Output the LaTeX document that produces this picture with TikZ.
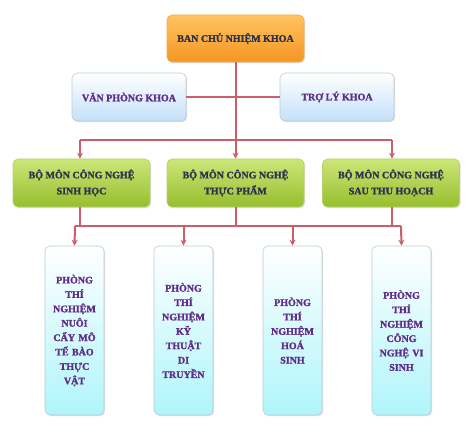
\documentclass[tikz,border=0pt]{standalone}
\usepackage{fontspec}
\setmainfont{Liberation Serif}
\newfontfamily\boxfont{Liberation Serif Bold}[FakeBold=1.6]
\usetikzlibrary{arrows.meta,shadows}
\definecolor{linec}{RGB}{200,95,105}
\definecolor{darktxt}{RGB}{45,50,75}
\definecolor{purptxt}{RGB}{95,45,135}
\definecolor{orangeT}{RGB}{255,195,95}
\definecolor{orangeB}{RGB}{245,150,35}
\definecolor{greenT}{RGB}{205,230,120}
\definecolor{greenB}{RGB}{150,190,45}
\definecolor{blueB}{RGB}{195,225,250}
\definecolor{cyanB}{RGB}{175,245,250}
\definecolor{bordc}{RGB}{185,205,215}
\tikzset{
  basebox/.style={rounded corners=5pt, draw=bordc, line width=0.6pt, align=center,
    font=\boxfont\fontsize{10}{16}\selectfont, inner sep=2pt,
    drop shadow={shadow xshift=1.2pt, shadow yshift=-1.2pt, opacity=0.25, fill=gray}},
  topbox/.style={basebox, top color=orangeT, bottom color=orangeB, draw=orangeB!80!white,
    text=darktxt, minimum width=137pt, minimum height=47pt},
  bluebox/.style={basebox, top color=white, bottom color=blueB, text=purptxt,
    minimum width=114pt, minimum height=48pt},
  greenbox/.style={basebox, top color=greenT, bottom color=greenB, draw=greenB!70!white,
    text=darktxt, minimum width=137pt, minimum height=48pt},
  cyanbox/.style={basebox, top color=white, bottom color=cyanB, text=purptxt,
    minimum width=59pt, minimum height=169pt, text width=55pt,
    font=\boxfont\fontsize{10}{14.4}\selectfont},
  conn/.style={draw=linec, line width=2pt},
  arr/.style={conn, -{Stealth[length=6pt,width=6pt]}}
}
\begin{document}
\begin{tikzpicture}[x=1pt,y=-1pt]
\useasboundingbox (0,0) rectangle (476,435);
\fill[white] (0,0) rectangle (476,435);
\node[topbox] (top) at (235.5,38.5) {BAN CHỦ NHIỆM KHOA};
\node[bluebox] (vpk) at (129,97) {VĂN PHÒNG KHOA};
\node[bluebox] (tlk) at (337,97) {TRỢ LÝ KHOA};
\node[greenbox] (g1) at (81.5,183) {BỘ MÔN CÔNG NGHỆ\\SINH HỌC};
\node[greenbox] (g2) at (235.5,183) {BỘ MÔN CÔNG NGHỆ\\THỰC PHẨM};
\node[greenbox] (g3) at (391,183) {BỘ MÔN CÔNG NGHỆ\\SAU THU HOẠCH};
\node[cyanbox] (c1) at (74.5,330.5) {PHÒNG\\THÍ\\NGHIỆM\\NUÔI\\CẤY MÔ\\TẾ BÀO\\THỰC\\VẬT};
\node[cyanbox] (c2) at (183.5,330.5) {PHÒNG\\THÍ\\NGHIỆM\\KỸ\\THUẬT\\DI\\TRUYỀN};
\node[cyanbox] (c3) at (292.5,330.5) {PHÒNG\\THÍ\\NGHIỆM\\HOÁ\\SINH};
\node[cyanbox] (c4) at (401.5,330.5) {PHÒNG\\THÍ\\NGHIỆM\\CÔNG\\NGHỆ VI\\SINH};
\coordinate (h1) at (80,140);
\coordinate (h3) at (392,140);
\coordinate (b1) at (75,226);
\coordinate (b4) at (401,226);
% top level
\draw[conn] (vpk.east) -- (tlk.west);
\draw[arr] (top.south) -- (g2.north);
\draw[conn] (h1) -- (h3);
\draw[arr] (h1) -- (h1 |- g1.north);
\draw[arr] (h3) -- (h3 |- g3.north);
% lower level
\draw[conn] (g1.south -| h1) -- (h1 |- b1);
\draw[conn] (g2.south) -- (g2.south |- b1);
\draw[conn] (g3.south -| h3) -- (h3 |- b4);
\draw[conn] (b1) -- (b4);
\draw[arr] (b1) -- (c1.north);
\draw[arr] (c2.north |- b1) -- (c2.north);
\draw[arr] (c3.north |- b1) -- (c3.north);
\draw[arr] (b4) -- (c4.north);
\end{tikzpicture}
\end{document}
